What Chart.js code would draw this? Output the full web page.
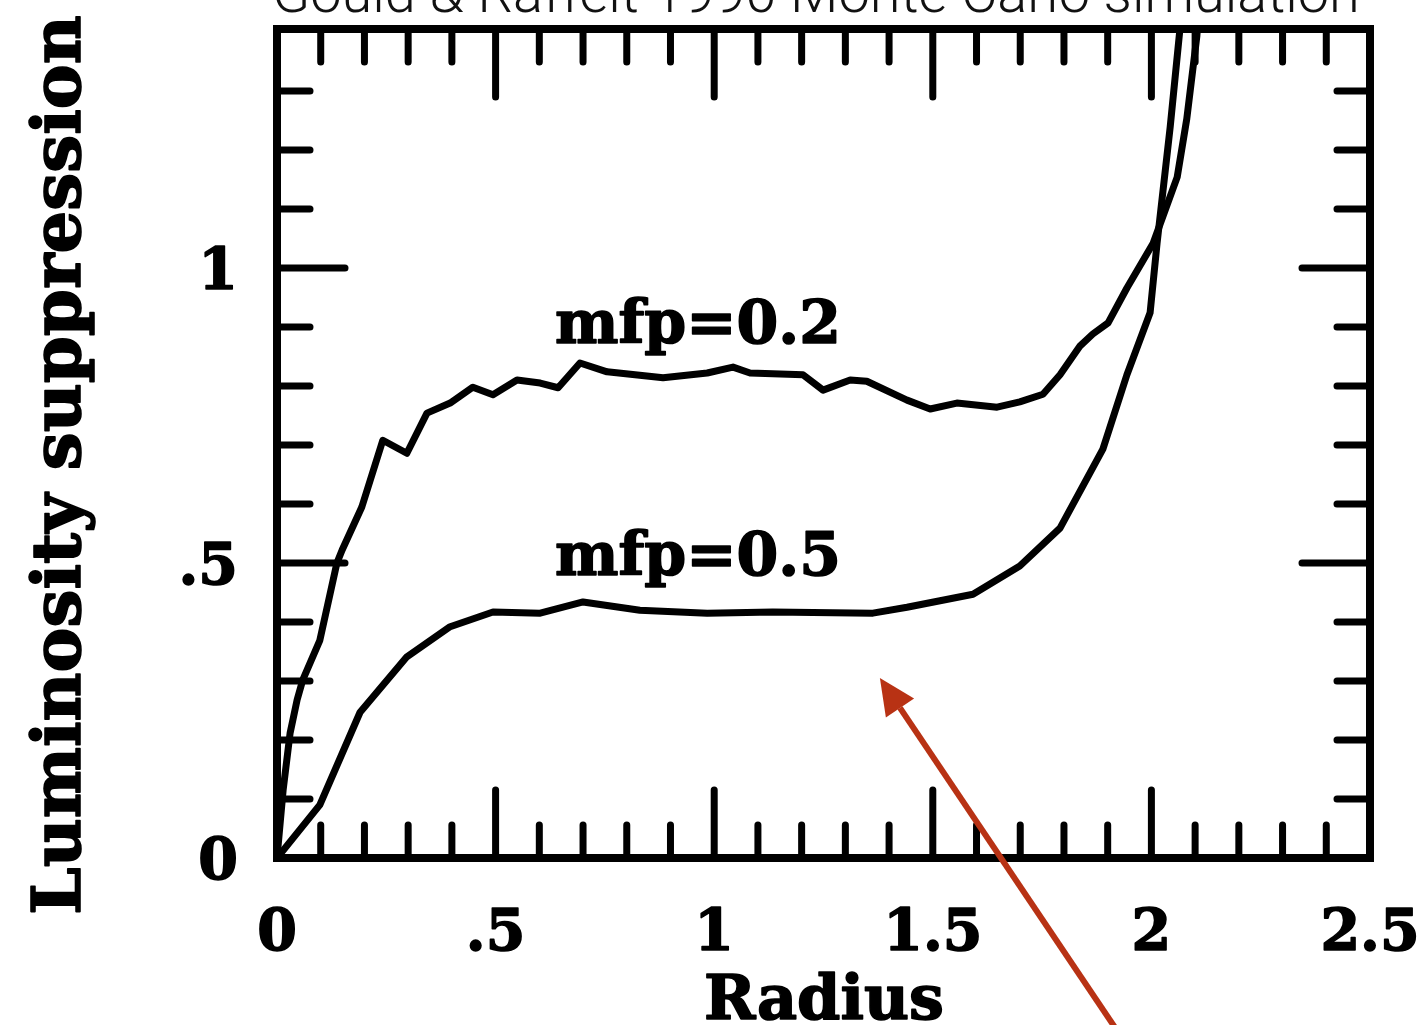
<!DOCTYPE html>
<html>
<head>
<meta charset="utf-8">
<script src="https://cdn.jsdelivr.net/npm/chart.js@4.4.1/dist/chart.umd.min.js"></script>
<style>
  html, body { margin: 0; padding: 0; background: #fff; }
  #wrap { width: 1426px; height: 1025px; }
</style>
</head>
<body>
<div id="wrap"><canvas id="suppressionChart" width="1426" height="1025"></canvas></div>
<script>
/* ==========================
   DATA
===========================*/
const radius02 = [0, 0.014, 0.030, 0.046, 0.059, 0.098, 0.137, 0.149, 0.194, 0.242,
  0.297, 0.343, 0.396, 0.448, 0.494, 0.549, 0.602, 0.643, 0.693, 0.755,
  0.883, 0.984, 1.043, 1.082, 1.203, 1.249, 1.311, 1.349, 1.441, 1.494,
  1.555, 1.647, 1.699, 1.752, 1.791, 1.837, 1.866, 1.901, 1.944, 2.004,
  2.059, 2.081, 2.104, 2.111];
const lum02 = [0, 0.115, 0.212, 0.268, 0.302, 0.369, 0.500, 0.522, 0.595, 0.708,
  0.686, 0.754, 0.771, 0.798, 0.785, 0.810, 0.805, 0.797, 0.839, 0.824,
  0.814, 0.822, 0.832, 0.822, 0.819, 0.793, 0.810, 0.808, 0.776, 0.761,
  0.771, 0.764, 0.773, 0.786, 0.819, 0.868, 0.888, 0.907, 0.966, 1.042,
  1.154, 1.253, 1.393, 1.47];

const radius05 = [0, 0.098, 0.190, 0.297, 0.396, 0.494, 0.602, 0.700, 0.830, 0.984,
  1.134, 1.363, 1.441, 1.592, 1.699, 1.791, 1.889, 1.944, 1.997, 2.013,
  2.027, 2.043, 2.065, 2.070];
const lum05 = [0, 0.090, 0.247, 0.341, 0.392, 0.417, 0.415, 0.434, 0.420, 0.415,
  0.417, 0.415, 0.425, 0.447, 0.495, 0.559, 0.693, 0.819, 0.924, 1.042,
  1.134, 1.239, 1.403, 1.45];

const xTickLabels = ['0', '.5', '1', '1.5', '2', '2.5'];
const yTickLabels = ['0', '.5', '1'];

const seriesNames = ['mfp=0.2', 'mfp=0.5'];

const toPoints = (xs, ys) => xs.map((x, i) => ({ x: x, y: ys[i] }));

/* ==========================
   LAYOUT / STYLE
===========================*/
const X_MAX = 2.5;
const Y_MAX = 1.405;
const serif = '"DejaVu Serif", "Liberation Serif", serif';
const sans = 'Roboto, "Open Sans", "Liberation Sans", sans-serif';
const ink = '#000';

// curve labels in data units: [centre x, baseline y]
const curveLabelPos = [[0.963, 0.873], [0.963, 0.480]];
// pointer arrow in data units: tail and tip
const arrowTail = { x: 1.921, y: -0.292 };
const arrowTip  = { x: 1.379, y: 0.305 };

// heavy text: fill plus a thin outline of the same ink
function boldText(ctx, s, x, y) {
  ctx.fillText(s, x, y);
  ctx.strokeText(s, x, y);
}

/* ==========================
   FRAME, TICKS, TEXT
===========================*/
const framePlugin = {
  id: 'frame',
  afterDatasetsDraw(chart) {
    const { ctx, chartArea: a, scales: { x, y } } = chart;
    ctx.save();
    ctx.strokeStyle = ink;
    ctx.fillStyle = ink;

    // box
    ctx.lineWidth = 8;
    ctx.lineCap = 'square';
    ctx.strokeRect(a.left, a.top, a.right - a.left, a.bottom - a.top);

    // ticks every 0.1, long ones every 0.5
    ctx.lineCap = 'round';
    ctx.lineWidth = 7;
    const big = 68, small = 33;
    for (let i = 1; i < 25; i++) {
      const v = i / 10;
      const px = x.getPixelForValue(v);
      const len = i % 5 === 0 ? big : small;
      ctx.beginPath();
      ctx.moveTo(px, a.bottom); ctx.lineTo(px, a.bottom - len);
      ctx.moveTo(px, a.top);    ctx.lineTo(px, a.top + len);
      ctx.stroke();
    }
    for (let i = 1; i * 0.1 < Y_MAX - 0.02; i++) {
      const v = i / 10;
      const py = y.getPixelForValue(v);
      const len = i % 5 === 0 ? big : small;
      ctx.beginPath();
      ctx.moveTo(a.left, py);  ctx.lineTo(a.left + len, py);
      ctx.moveTo(a.right, py); ctx.lineTo(a.right - len, py);
      ctx.stroke();
    }

    ctx.lineWidth = 1.6;
    ctx.lineJoin = 'round';

    // tick labels
    ctx.font = 'bold 57px ' + serif;
    ctx.textAlign = 'center';
    ctx.textBaseline = 'alphabetic';
    xTickLabels.forEach((t, i) => {
      boldText(ctx, t, x.getPixelForValue(i * 0.5), 950);
    });
    ctx.textAlign = 'right';
    yTickLabels.forEach((t, i) => {
      boldText(ctx, t, 238, y.getPixelForValue(i * 0.5) + 21);
    });

    // axis titles
    ctx.textAlign = 'center';
    ctx.font = 'bold 62px ' + serif;
    boldText(ctx, 'Radius', 824, 1019);

    ctx.save();
    ctx.translate(80, 465);
    ctx.rotate(-Math.PI / 2);
    let fs = 62;
    ctx.font = 'bold ' + fs + 'px ' + serif;
    fs = fs * 900 / ctx.measureText('Luminosity suppression').width;
    ctx.font = 'bold ' + fs.toFixed(1) + 'px ' + serif;
    boldText(ctx, 'Luminosity suppression', 0, 0);
    ctx.restore();

    // curve labels
    ctx.font = 'bold 60px ' + serif;
    seriesNames.forEach((n, i) => {
      const p = curveLabelPos[i];
      boldText(ctx, n, x.getPixelForValue(p[0]), y.getPixelForValue(p[1]));
    });

    // title along the top edge
    const title = 'Gould & Raffelt 1990 Monte Carlo simulation';
    let ts = 54;
    ctx.font = '300 ' + ts + 'px ' + sans;
    ts = ts * 1088 / ctx.measureText(title).width;
    ctx.font = '300 ' + ts.toFixed(1) + 'px ' + sans;
    ctx.fillStyle = '#111';
    ctx.textAlign = 'left';
    ctx.fillText(title, 272, 12);

    // red pointer arrow
    const tx = x.getPixelForValue(arrowTail.x), ty = y.getPixelForValue(arrowTail.y);
    const hx = x.getPixelForValue(arrowTip.x),  hy = y.getPixelForValue(arrowTip.y);
    const ang = Math.atan2(hy - ty, hx - tx);
    const headLen = 36, headHalf = 17;
    const bx = hx - headLen * Math.cos(ang), by = hy - headLen * Math.sin(ang);
    ctx.strokeStyle = '#b83214';
    ctx.fillStyle = '#b83214';
    ctx.lineWidth = 6;
    ctx.lineCap = 'butt';
    ctx.beginPath();
    ctx.moveTo(tx, ty); ctx.lineTo(bx, by);
    ctx.stroke();
    ctx.beginPath();
    ctx.moveTo(hx, hy);
    ctx.lineTo(bx + headHalf * Math.sin(ang), by - headHalf * Math.cos(ang));
    ctx.lineTo(bx - headHalf * Math.sin(ang), by + headHalf * Math.cos(ang));
    ctx.closePath();
    ctx.fill();

    ctx.restore();
  }
};

/* ==========================
   CHART
===========================*/
const ctxLum = document.getElementById('suppressionChart').getContext('2d');

new Chart(ctxLum, {
  type: 'line',
  data: {
    datasets: [
      { label: seriesNames[0], data: toPoints(radius02, lum02) },
      { label: seriesNames[1], data: toPoints(radius05, lum05) }
    ]
  },
  options: {
    responsive: false,
    animation: false,
    devicePixelRatio: 1,
    layout: { padding: { left: 277, right: 56, top: 29, bottom: 167 } },
    elements: {
      line: { borderColor: ink, borderWidth: 7, tension: 0, fill: false,
              borderJoinStyle: 'round', borderCapStyle: 'round' },
      point: { radius: 0, hoverRadius: 0 }
    },
    scales: {
      x: { type: 'linear', min: 0, max: X_MAX, display: false },
      y: { type: 'linear', min: 0, max: Y_MAX, display: false }
    },
    plugins: {
      legend: { display: false },
      tooltip: { enabled: false },
      title: { display: false }
    }
  },
  plugins: [framePlugin]
});
</script>
</body>
</html>
